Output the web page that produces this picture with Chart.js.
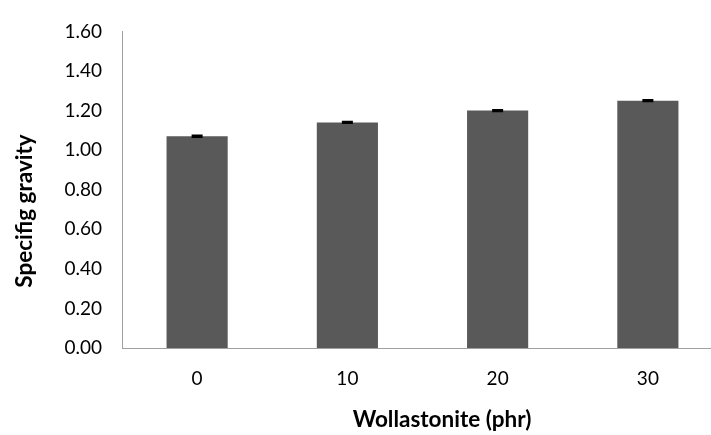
<!DOCTYPE html>
<html>
<head>
<meta charset="utf-8">
<script src="https://cdn.jsdelivr.net/npm/chart.js@4"></script>
<style>
  html, body { margin: 0; padding: 0; background: #fff; overflow: hidden; }
  #wrap { position: relative; width: 723px; height: 435px; }
</style>
</head>
<body>
<div id="wrap"><canvas id="chart"></canvas></div>
<script>
// data
const categories = ['0', '10', '20', '30'];
const specificGravity = [1.07, 1.14, 1.20, 1.25];
const errors = [0.004, 0.003, 0.003, 0.003];
const yTicks = [0, 0.2, 0.4, 0.6, 0.8, 1.0, 1.2, 1.4, 1.6];

const xTitle = 'Wollastonite (phr)';
const yTitle = 'Specifig gravity';

const fontFamily = 'Lato, "Open Sans", sans-serif';

// error bars + axis titles drawn after the bars
const extras = {
    id: 'extras',
    afterDatasetsDraw(chart) {
        const ctx = chart.ctx;
        const x = chart.scales.x;
        const y = chart.scales.y;
        ctx.save();
        ctx.strokeStyle = '#000';
        ctx.lineWidth = 2;
        specificGravity.forEach(function (v, i) {
            const cx = x.getPixelForValue(i);
            const top = y.getPixelForValue(v + errors[i]);
            const bot = y.getPixelForValue(v - errors[i]);
            ctx.beginPath();
            ctx.moveTo(cx, top); ctx.lineTo(cx, bot);
            ctx.moveTo(cx - 5.5, top); ctx.lineTo(cx + 5.5, top);
            ctx.moveTo(cx - 5.5, bot); ctx.lineTo(cx + 5.5, bot);
            ctx.stroke();
        });
        ctx.restore();
    },
    afterDraw(chart) {
        const ctx = chart.ctx;
        const area = chart.chartArea;
        ctx.save();
        ctx.fillStyle = '#000';
        ctx.font = 'bold 22.5px ' + fontFamily;
        ctx.textAlign = 'center';
        ctx.textBaseline = 'middle';
        ctx.fillText(xTitle, 442, area.bottom + 72);
        ctx.translate(25, 211);
        ctx.rotate(-Math.PI / 2);
        ctx.fillText(yTitle, 0, 0);
        ctx.restore();
    }
};

new Chart(document.getElementById('chart'), {
    type: 'bar',
    data: {
        labels: categories,
        datasets: [{
            data: specificGravity,
            backgroundColor: '#595959',
            borderWidth: 0,
            categoryPercentage: 1,
            barPercentage: 0.407
        }]
    },
    options: {
        responsive: true,
        maintainAspectRatio: false,
        animation: false,
        layout: { padding: { top: 22, right: 0, bottom: 0, left: 0 } },
        plugins: {
            legend: { display: false },
            tooltip: { enabled: false }
        },
        scales: {
            x: {
                grid: { display: false, drawTicks: false },
                border: { display: true, color: '#a0a0a0', width: 1 },
                ticks: {
                    color: '#000',
                    padding: 19,
                    font: { family: fontFamily, size: 19 }
                },
                afterFit(scale) { scale.height = 87; }
            },
            y: {
                min: 0,
                max: 1.6,
                grid: { display: false, drawTicks: false },
                border: { display: true, color: '#a0a0a0', width: 1 },
                afterBuildTicks(scale) {
                    scale.ticks = yTicks.map(function (v) { return { value: v }; });
                },
                ticks: {
                    color: '#000',
                    padding: 20,
                    font: { family: fontFamily, size: 19 },
                    callback: function (v) { return Number(v).toFixed(2); }
                },
                afterFit(scale) { scale.width = 122; }
            }
        }
    },
    plugins: [extras]
});
</script>
</body>
</html>
